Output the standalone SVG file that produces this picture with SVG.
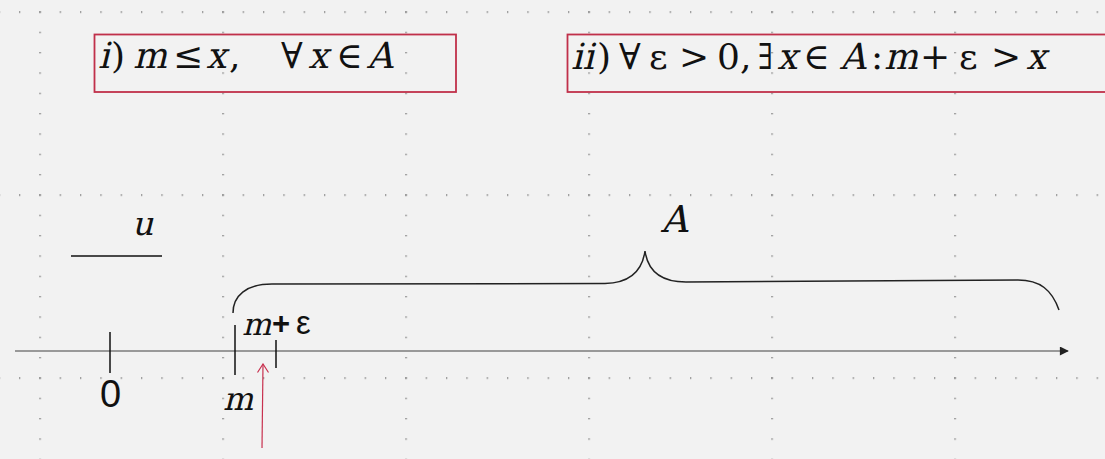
<svg xmlns="http://www.w3.org/2000/svg" width="1105" height="459" viewBox="0 0 1105 459">
<defs>
<pattern id="gcol" patternUnits="userSpaceOnUse" x="39.4" y="11.4" width="183" height="20.333">
<rect x="0" y="0" width="1.3" height="1.3" fill="#666"/>
</pattern>
<pattern id="grow" patternUnits="userSpaceOnUse" x="19" y="11.4" width="20.333" height="183">
<rect x="0" y="0" width="1.3" height="1.3" fill="#666"/>
</pattern>
<marker id="axhead" viewBox="0 0 10 10" refX="9" refY="5" markerWidth="10" markerHeight="9" markerUnits="userSpaceOnUse" orient="auto">
<path d="M0,0 L10,5 L0,10 Z" fill="#222"/>
</marker>
<marker id="redhead" viewBox="0 0 12 10" refX="6" refY="1" markerWidth="12" markerHeight="10" markerUnits="userSpaceOnUse" orient="0">
<path d="M0.5,9.5 L6,1 L11.5,9.5" fill="none" stroke="#c8314f" stroke-width="1.2"/>
</marker>
<style>
.box{fill:none;stroke:#c0304a;stroke-width:1.8}
.ser{font-family:"DejaVu Serif","Liberation Serif",serif;font-style:normal;fill:#111}
.sans{font-family:"Liberation Sans",Arial,sans-serif;fill:#111}
.tick{stroke:#111;stroke-width:1.5}
</style>
</defs>
<rect width="1105" height="459" fill="#f2f2f2"/>
<g id="grid">
<rect width="1105" height="459" fill="url(#gcol)"/>
<rect width="1105" height="459" fill="url(#grow)"/>
</g>
<g id="cond1" font-size="36">
<rect class="box" x="94.5" y="34.5" width="361.5" height="57.5"/>
<text class="ser" transform="translate(98,68) skewX(-14)">i</text>
<text class="ser" y="68"><tspan x="111">)</tspan><tspan x="173">≤</tspan><tspan x="229">,</tspan><tspan x="281">∀</tspan><tspan x="336">∈</tspan></text>
<text class="ser" transform="translate(133,68) skewX(-14)">m</text>
<text class="ser" transform="translate(206,68) skewX(-14)">x</text>
<text class="ser" transform="translate(308,68) skewX(-14)">x</text>
<text class="ser" transform="translate(367,68) skewX(-14)">A</text>
</g>
<g id="cond2" font-size="36">
<rect class="box" x="567.5" y="34.5" width="545" height="57.5"/>
<text class="ser" transform="translate(571,69) skewX(-14)">ii</text>
<text class="ser" y="69"><tspan x="597">)</tspan><tspan x="619">∀</tspan><tspan x="649">ε</tspan><tspan x="679">&gt;</tspan><tspan x="717">0,</tspan><tspan x="803">∈</tspan><tspan x="871">:</tspan><tspan x="920">+</tspan><tspan x="959">ε</tspan><tspan x="991">&gt;</tspan></text>
<text class="ser" transform="translate(758,69) scale(0.75,1)">∃</text>
<text class="ser" transform="translate(777,69) skewX(-14)">x</text>
<text class="ser" transform="translate(840,69) skewX(-14)">A</text>
<text class="ser" transform="translate(884,69) skewX(-14)">m</text>
<text class="ser" transform="translate(1026,69) skewX(-14)">x</text>
</g>
<g id="unit">
<text class="ser" font-size="33" transform="translate(132,235) skewX(-14)">u</text>
<line class="tick" x1="71" y1="256" x2="162" y2="256"/>
</g>
<g id="setA">
<path d="M233,313 C233,296 246,284 272,284 L605,283.5 C628,283 642,272 645,251 C648,272 662,282 686,282 L1018,280 C1040,280 1052,290 1059,310" fill="none" stroke="#222" stroke-width="1.5"/>
<text class="ser" font-size="37" transform="translate(661,232) skewX(-14)">A</text>
</g>
<g id="connectors">
<line x1="15" y1="351" x2="1068" y2="351" stroke="#999" stroke-width="2" marker-end="url(#axhead)"/>
<line x1="262" y1="448" x2="263" y2="364" stroke="#c8314f" stroke-width="1.2" marker-end="url(#redhead)"/>
</g>
<g id="zero">
<line class="tick" x1="110" y1="332" x2="110" y2="373"/>
<text class="sans" font-size="38" x="100" y="407">0</text>
</g>
<g id="m">
<line class="tick" x1="235" y1="325" x2="235" y2="375"/>
<text class="ser" font-size="32" transform="translate(223,410) skewX(-14)">m</text>
</g>
<g id="meps">
<line class="tick" x1="276" y1="340" x2="276" y2="368"/>
<text class="ser" font-size="31" transform="translate(242,335) skewX(-14)">m</text>
<text class="sans" y="334"><tspan x="272" font-weight="bold" font-size="31">+</tspan><tspan x="296" font-size="33">ε</tspan></text>
</g>
</svg>
